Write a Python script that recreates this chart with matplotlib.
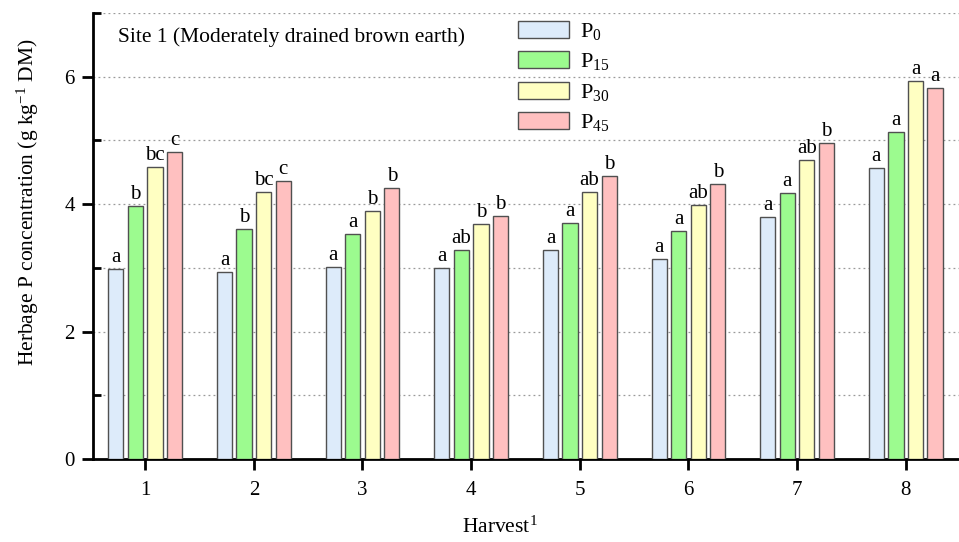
import numpy as np
import matplotlib.pyplot as plt
from matplotlib.ticker import MultipleLocator

plt.rcParams['font.family'] = ['Liberation Serif', 'DejaVu Serif']
plt.rcParams['mathtext.fontset'] = 'custom'
plt.rcParams['mathtext.rm'] = 'Liberation Serif'
plt.rcParams['mathtext.it'] = 'Liberation Serif:italic'

# data
harvests = [1, 2, 3, 4, 5, 6, 7, 8]
p0 = [2.98, 2.94, 3.02, 3.00, 3.28, 3.14, 3.80, 4.57]
p15 = [3.97, 3.61, 3.53, 3.28, 3.71, 3.58, 4.18, 5.14]
p30 = [4.59, 4.19, 3.90, 3.69, 4.19, 3.99, 4.70, 5.94]
p45 = [4.82, 4.37, 4.26, 3.82, 4.44, 4.32, 4.96, 5.83]
letters_p0 = ['a', 'a', 'a', 'a', 'a', 'a', 'a', 'a']
letters_p15 = ['b', 'b', 'a', 'ab', 'a', 'a', 'a', 'a']
letters_p30 = ['bc', 'bc', 'b', 'b', 'ab', 'ab', 'ab', 'a']
letters_p45 = ['c', 'c', 'b', 'b', 'b', 'b', 'b', 'a']

series = [p0, p15, p30, p45]
letters = [letters_p0, letters_p15, letters_p30, letters_p45]
labels = ['P$_{0}$', 'P$_{15}$', 'P$_{30}$', 'P$_{45}$']
colors = ['#ddebfa', '#9cfb8f', '#ffffc2', '#ffc0c0']

fig = plt.figure(figsize=(9.59, 5.42), dpi=100)
ax = fig.add_axes([0.097, 0.153, 0.903, 0.823])

x = np.array(harvests, dtype=float)
step = 0.18
width = 0.14
for i, vals in enumerate(series):
    xs = x + (i - 1.5) * step
    ax.bar(xs, vals, width=width, color=colors[i], edgecolor='#505050',
           linewidth=1.0, label=labels[i], zorder=3)
    for xx, v, t in zip(xs, vals, letters[i]):
        ax.text(xx, v + 0.03, t, ha='center', va='bottom', fontsize=15, zorder=4)

ax.set_xlim(0.52, 8.49)
ax.set_ylim(0, 7)
ax.set_xticks(harvests)
ax.yaxis.set_major_locator(MultipleLocator(2))
ax.yaxis.set_minor_locator(MultipleLocator(1))
ax.tick_params(axis='both', which='major', direction='out', length=8, width=2,
               labelsize=15)
ax.tick_params(axis='y', which='minor', direction='in', length=6, width=2)
ax.tick_params(axis='x', pad=8)
ax.tick_params(axis='y', pad=5)

for yv in range(1, 8):
    ax.axhline(yv, color='#9a9a9a', linestyle=(0, (1.5, 2.5)), linewidth=0.9, zorder=1)

ax.spines['top'].set_visible(False)
ax.spines['right'].set_visible(False)
ax.spines['left'].set_linewidth(2)
ax.spines['bottom'].set_linewidth(2)

ax.set_ylabel('Herbage P concentration (g kg$^{-1}$ DM)', fontsize=15.5)
ax.yaxis.set_label_coords(-0.06, 0.575)
ax.set_xlabel('Harvest$^{1}$', fontsize=15.5)
ax.xaxis.set_label_coords(0.47, -0.128)

ax.text(0.029, 0.947, 'Site 1 (Moderately drained brown earth)', transform=ax.transAxes,
        fontsize=15.5, ha='left', va='center')

leg = ax.legend(loc='upper left', bbox_to_anchor=(0.48, 1.003), frameon=False,
                fontsize=16, handlelength=2.3, handleheight=0.8, labelspacing=0.42,
                handletextpad=0.5, borderaxespad=0)

fig.savefig('out.png', dpi=100)
